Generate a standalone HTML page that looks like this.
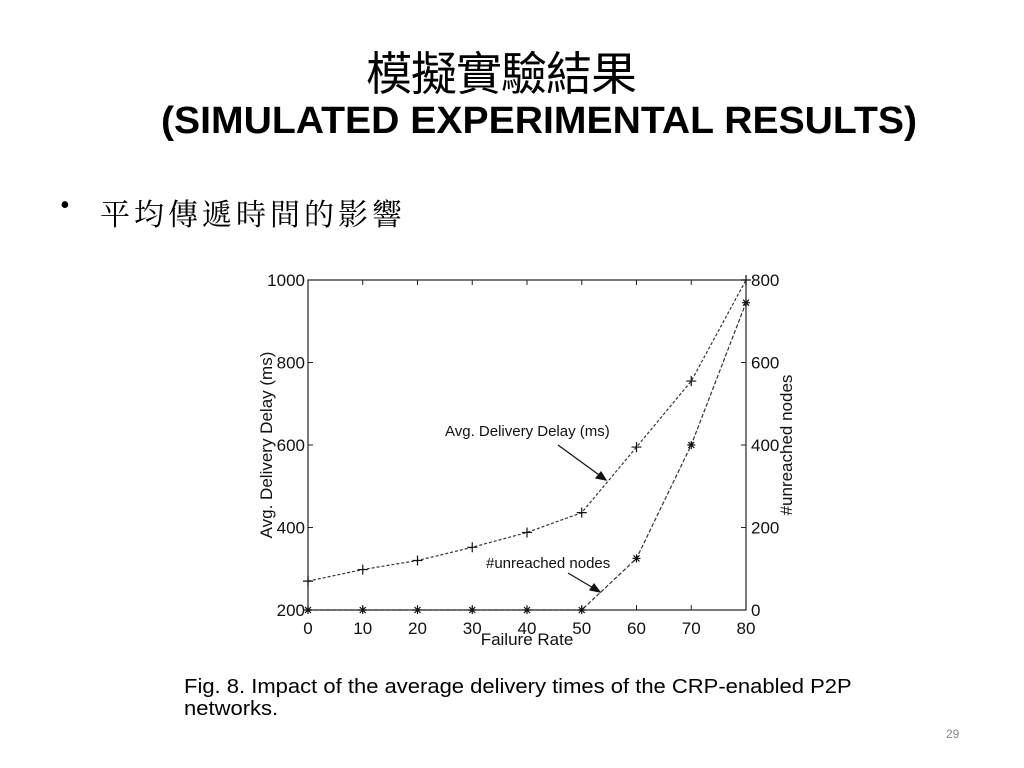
<!DOCTYPE html>
<html><head><meta charset="utf-8"><style>
body{margin:0;background:#fff;}
#s{position:relative;width:1024px;height:768px;overflow:hidden;background:#fff;}
.t{position:absolute;white-space:nowrap;color:#000;}
</style></head><body>
<div id="s">
<div class="t" style="left:366px;top:38px;font:46px 'Liberation Sans','Noto Sans CJK TC',sans-serif;letter-spacing:-1px;">模擬實驗結果</div>
<div class="t" style="left:161px;top:100px;font:bold 38px 'Liberation Sans',sans-serif;transform:scaleX(1.03);transform-origin:left;">(SIMULATED EXPERIMENTAL RESULTS)</div>
<div class="t" style="left:60px;top:190px;font:28px 'Liberation Serif',serif;">•</div>
<div class="t" style="left:100px;top:190px;font:30px 'Liberation Serif','Noto Serif CJK SC',serif;letter-spacing:4px;">平均傳遞時間的影響</div>
<svg id="chart" width="1024" height="768" style="position:absolute;left:0;top:0" font-family="Liberation Sans, sans-serif"></svg>
<div class="t" style="left:184px;top:676px;font:20px 'Liberation Sans',sans-serif;line-height:22px;color:#000;transform:scaleX(1.1);transform-origin:left;">Fig. 8. Impact of the average delivery times of the CRP-enabled P2P<br>networks.</div>
<div class="t" style="left:946px;top:727px;font:12px 'Liberation Sans',sans-serif;color:#888;">29</div>
</div>
<script>
const categories=[0,10,20,30,40,50,60,70,80];
const delayValues=[270,298,320,352,388,436,595,755,1000];
const nodeValues=[0,0,0,0,0,0,125,400,745];
const leftTicks=[200,400,600,800,1000];
const rightTicks=[0,200,400,600,800];
const NS='http://www.w3.org/2000/svg';
const svg=document.getElementById('chart');
const L=308,R=746,T=280,B=610;
const xs=v=>L+(v-0)/(80-0)*(R-L);
const yl=v=>B-(v-200)/(1000-200)*(B-T);
const yr=v=>B-(v-0)/(800-0)*(B-T);
function mk(tag,at){const e=document.createElementNS(NS,tag);for(const k in at)e.setAttribute(k,at[k]);svg.appendChild(e);return e;}
const box=mk('rect',{x:L,y:T,width:R-L,height:B-T,fill:'none',stroke:'#222','stroke-width':1.2});


categories.forEach(c=>{
  const x=xs(c);
  const t1=mk('line',{x1:x,y1:B,x2:x,y2:B-5,stroke:'#222'});
  
  
  const t2=mk('line',{x1:x,y1:T,x2:x,y2:T+5,stroke:'#222'});
  
  
  const lb=mk('text',{x:x,y:B+24,'font-size':17,'text-anchor':'middle',fill:'#111'});
  lb.textContent=c;
  
  
});
leftTicks.forEach(v=>{
  const y=yl(v);
  const t=mk('line',{x1:L,y1:y,x2:L+5,y2:y,stroke:'#222'});
  
  
  const lb=mk('text',{x:L-3,y:y+6,'font-size':17,'text-anchor':'end',fill:'#111'});
  lb.textContent=v;
  
  
});
rightTicks.forEach(v=>{
  const y=yr(v);
  const t=mk('line',{x1:R,y1:y,x2:R-5,y2:y,stroke:'#222'});
  
  
  const lb=mk('text',{x:R+5,y:y+6,'font-size':17,fill:'#111'});
  lb.textContent=v;
  
  
});
const xt=mk('text',{x:527,y:645,'font-size':17,'text-anchor':'middle',fill:'#111'});
xt.textContent='Failure Rate';


const ylt=mk('text',{x:272,y:445,'font-size':17,'text-anchor':'middle',fill:'#111',transform:'rotate(-90 272 445)'});
ylt.textContent='Avg. Delivery Delay (ms)';


const yrt=mk('text',{x:792,y:445,'font-size':17,'text-anchor':'middle',fill:'#111',transform:'rotate(-90 792 445)'});
yrt.textContent='#unreached nodes';


const dp=categories.map((c,i)=>xs(c)+','+yl(delayValues[i])).join(' ');
const dl=mk('polyline',{points:dp,fill:'none',stroke:'#333','stroke-width':1.2,'stroke-dasharray':'3,2'});


const np=categories.map((c,i)=>xs(c)+','+yr(nodeValues[i])).join(' ');
const nl=mk('polyline',{points:np,fill:'none',stroke:'#333','stroke-width':1.2,'stroke-dasharray':'4,2'});


categories.forEach((c,i)=>{
  const x=xs(c),y=yl(delayValues[i]);
  const p=mk('path',{d:`M${x-5},${y}H${x+5}M${x},${y-5}V${y+5}`,stroke:'#111','stroke-width':1.2});
  
  
  const y2=yr(nodeValues[i]);
  const s=mk('path',{d:`M${x-4},${y2}H${x+4}M${x},${y2-4}V${y2+4}M${x-3},${y2-3}L${x+3},${y2+3}M${x-3},${y2+3}L${x+3},${y2-3}`,stroke:'#111','stroke-width':1.2});
  
  
});
const a1=mk('text',{x:445,y:436,'font-size':15,fill:'#111'});
a1.textContent='Avg. Delivery Delay (ms)';


const ar1=mk('path',{d:'M558,445L606,480M606,480l-10,-2l5,-6z',stroke:'#111',fill:'#111','stroke-width':1.2});


const a2=mk('text',{x:486,y:568,'font-size':15,fill:'#111'});
a2.textContent='#unreached nodes';


const ar2=mk('path',{d:'M568,573L600,592M600,592l-10,-2l4,-6z',stroke:'#111',fill:'#111','stroke-width':1.2});


</script>
</body></html>
